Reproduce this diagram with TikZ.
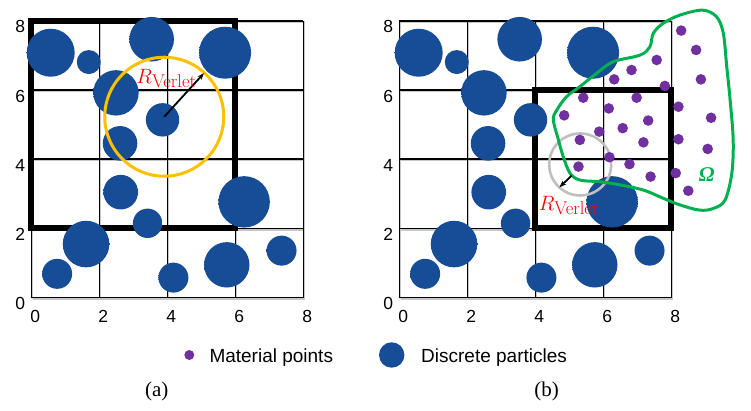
\documentclass[tikz,border=0pt]{standalone}
\usepackage{fontspec}
\newfontfamily\arialf{Liberation Sans}
\newfontfamily\timesf{Liberation Serif}
\usetikzlibrary{arrows.meta}
\definecolor{pblue}{RGB}{22,77,150}
\definecolor{ppurple}{RGB}{112,48,160}
\definecolor{pyellow}{RGB}{255,192,0}
\definecolor{pgreen}{RGB}{0,176,80}
\definecolor{pgray}{RGB}{191,191,191}
\definecolor{pred}{RGB}{255,0,0}
\pgfdeclareradialshading{partball}{\pgfpoint{0bp}{12bp}}{color(0bp)=(pblue); color(42bp)=(pblue); color(52bp)=(pblue!85!white); color(62bp)=(pblue!50!white); color(80bp)=(pblue!50!white)}
\tikzset{
  gridline/.style={line width=1.6pt, black},
  gridshadow/.style={line width=1.6pt, black!22},
  thickbox/.style={line width=6pt, black, line join=miter},
  particle/.style={shading=partball},
  mpoint/.style={fill=ppurple},
  ticklab/.style={font=\arialf\fontsize{17.5}{18}\selectfont, inner sep=0pt},
  rlab/.style={text=pred, inner sep=0pt},
  legtext/.style={font=\arialf\fontsize{19}{20}\selectfont, inner sep=0pt, anchor=base west},
  panellab/.style={font=\timesf\fontsize{21}{22}\selectfont, inner sep=0pt},
  radarrow/.style={-{Stealth[length=7pt,width=5pt]}, line width=1.8pt, black}
}
\newcommand\rverletlabel{{\fontsize{20}{20}\selectfont$R$}\raisebox{-4pt}{\fontsize{18.5}{18.5}\selectfont Verlet}}
\newcommand\drawgridpanel{%
  \begin{scope}[xshift=1.3pt,yshift=-1.3pt]
    \foreach \v in {0,2,4,6,8} {
      \draw[gridshadow] (\v,0) -- (\v,8);
      \draw[gridshadow] (0,\v) -- (8,\v);
    }
  \end{scope}
  \foreach \v in {0,2,4,6,8} {
    \draw[gridline] (\v,0) -- (\v,8);
    \draw[gridline] (0,\v) -- (8,\v);
    \node[ticklab, xshift=-11pt, yshift=-6pt] at (0,\v) {\v};
    \node[ticklab, xshift=4pt, yshift=-19pt] at (\v,0) {\v};
  }%
}
\newcommand\drawparticlesall{%
  \foreach \px/\py/\pr in {0.57/7.08/24, 1.69/6.81/12, 3.54/7.47/22.3, 5.70/7.08/26,
    2.49/5.92/22.7, 3.86/5.14/16.7, 2.61/4.46/17.3, 2.63/3.05/17.3, 6.26/2.77/25.7,
    3.42/2.15/14.7, 1.61/1.55/23.3, 0.76/0.69/15, 4.18/0.58/15, 5.75/0.95/22.7, 7.36/1.36/15} {
    \shade[particle] (\px,\py) circle (\pr pt);
  }%
}
\begin{document}
\begin{tikzpicture}
\useasboundingbox (0pt,0pt) rectangle (751pt,411pt);
% ---------- panel (a)
\begin{scope}[shift={(31.3pt,113.3pt)}, x=34pt, y=34.6pt]
  \drawgridpanel
  \draw[thickbox] (0,2) rectangle (6,8);
  \drawparticlesall
  \coordinate (ca) at (3.91,5.23);
  \coordinate (ea) at (5.08,6.49);
  \draw[pyellow, line width=3pt] (ca) circle (59.5pt);
  \draw[radarrow] (ca) -- (ea);
  \node[rlab] (ra) at (3.97,6.33) {\rverletlabel};
\end{scope}
% ---------- panel (b)
\begin{scope}[shift={(399.3pt,113.3pt)}, x=34pt, y=34.6pt]
  \drawgridpanel
  \draw[thickbox] (4,2) rectangle (8,6);
  \drawparticlesall
  \coordinate (cb) at (5.32,3.85);
  \draw[pgray, line width=2.6pt] (cb) circle (31pt);
  \foreach \mx/\my in {8.29/7.72, 8.73/7.16, 8.87/6.31, 7.57/6.87, 6.83/6.58, 6.32/6.31,
    7.81/6.12, 5.41/5.78, 6.98/5.78, 8.21/5.52, 9.17/5.20, 6.16/5.47, 4.85/5.27,
    7.32/5.12, 6.57/4.90, 5.88/4.80, 5.31/4.56, 8.21/4.58, 7.18/4.49, 9.07/4.30,
    6.18/4.06, 6.77/3.86, 5.27/3.79, 8.13/3.60, 7.39/3.50, 8.50/3.09} {
    \fill[mpoint] (\mx,\my) circle (5.3pt);
  }
  \draw[pgreen, line width=3pt] plot[smooth cycle, tension=0.55] coordinates {
    (8.92,8.31) (9.33,8.12) (9.53,7.64) (9.63,6.68) (9.73,5.71) (9.82,4.56)
    (9.78,3.60) (9.58,2.82) (9.24,2.58) (8.84,2.53) (8.26,2.68) (7.77,2.87)
    (7.18,3.11) (6.49,3.26) (5.90,3.35) (5.31,3.40) (5.02,3.60) (4.82,4.08)
    (4.68,4.56) (4.53,5.14) (4.63,5.42) (4.92,5.81) (5.31,6.10) (5.81,6.49)
    (6.29,6.82) (7.08,7.01) (7.37,7.25) (7.47,7.64) (7.76,7.93) (8.26,8.17)};
  \coordinate (sb) at (5.07,3.53);
  \coordinate (eb) at (4.71,3.19);
  \draw[radarrow] (sb) -- (eb);
  \node[rlab] (rb) at (4.98,2.66) {\rverletlabel};
  \node[text=pgreen, inner sep=0pt, font=\timesf\bfseries\itshape\fontsize{21}{21}\selectfont] (om) at (9.04,3.55) {Ω};
\end{scope}
% ---------- legend
\fill[mpoint] (189.3pt,56pt) circle (5pt);
\node[legtext] (lm) at (209.3pt,48.6pt) {Material points};
\shade[particle] (391.7pt,56pt) circle (12.7pt);
\node[legtext] (ld) at (421pt,48.6pt) {Discrete particles};
% ---------- panel labels
\node[panellab] (la) at (156.7pt,19.3pt) {(a)};
\node[panellab] (lb) at (546.7pt,19.3pt) {(b)};
\end{tikzpicture}
\end{document}
